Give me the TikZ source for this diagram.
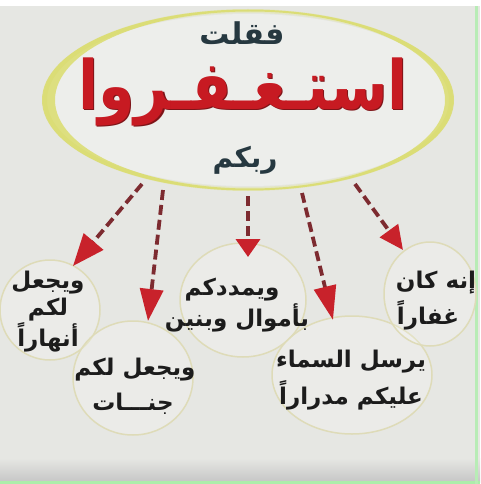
\documentclass[tikz,border=0pt]{standalone}
\usepackage{fontspec}
\TeXXeTstate=1
\newfontfamily\ar[Script=Arabic]{DejaVu Sans}
\usetikzlibrary{arrows.meta,shapes.geometric}
\definecolor{bg}{HTML}{E6E7E3}
\definecolor{ringy}{HTML}{D8DA5C}
\definecolor{ringl}{HTML}{E4E6C4}
\definecolor{circ}{HTML}{DEDBB8}
\definecolor{shaft}{HTML}{7D2B30}
\definecolor{headred}{HTML}{C8222B}
\definecolor{titred}{HTML}{C71A22}
\definecolor{titedge}{HTML}{7E1418}
\definecolor{titdark}{HTML}{263840}
\definecolor{txt}{HTML}{1C1C1C}
\tikzset{
  bubble/.style={ellipse, draw=circ, line width=1.5pt, fill=white, fill opacity=0.2, draw opacity=1, inner sep=0pt},
  lbl/.style={font=\ar\bfseries\fontsize{23}{27}\selectfont, text=txt, align=center, inner sep=0pt},
  arr/.style={draw=shaft, line width=3.8pt, dash pattern=on 10pt off 5pt},
  bigword/.style={font=\ar\bfseries\fontsize{68}{72}\selectfont, inner sep=0pt},
}
\newcommand\bigtxt{\scalebox{0.86}[1.0]{\beginR استـغـفـروا\endR}}
\begin{document}
\begin{tikzpicture}[x=1pt,y=-1pt]
\useasboundingbox (0,0) rectangle (480,484);
\fill[bg] (0,0) rectangle (480,484);
\fill[white] (0,0) rectangle (480,6);
\shade[top color=bg, bottom color=gray!45] (0,458) rectangle (480,482);
\fill[green!25!bg] (0,481) rectangle (480,484);
\fill[green!20!bg] (475,6) rectangle (478,484);
% big ellipse
\node[ellipse, minimum width=404pt, minimum height=172pt, fill=white, fill opacity=0.3, inner sep=0pt] (top) at (248,100) {};
\draw[ringl, line width=4pt] (248,100) ellipse [x radius=203pt, y radius=89pt];
\fill[ringy, even odd rule, opacity=0.75] (248,100) ellipse [x radius=206pt, y radius=90.5pt]
      (250,100) ellipse [x radius=195pt, y radius=88.5pt];
\node[font=\ar\bfseries\fontsize{30}{34}\selectfont, text=titdark] (t1) at (242,33) {\beginR فقلت\endR};
\node[bigword, text=titedge] (t2s) at (244.2,93.2) {\bigtxt};
\node[bigword, text=titred] (t2) at (243,92) {\bigtxt};
\node[font=\ar\bfseries\fontsize{28}{32}\selectfont, text=titdark] (t3) at (245,160) {\beginR ربكم\endR};
% bubbles
\node[bubble, minimum width=100pt, minimum height=100pt] (b1) at (50,310) {};
\node[bubble, minimum width=120pt, minimum height=114pt] (b2) at (133,378) {};
\node[bubble, minimum width=126pt, minimum height=114pt] (b3) at (243,300) {};
\node[bubble, minimum width=160pt, minimum height=118pt] (b4) at (352,375) {};
\node[bubble, minimum width=92pt, minimum height=104pt] (b5) at (430,294) {};
% labels
\node[lbl] (l1a) at (48,283) {\beginR ويجعل\endR};
\node[lbl] (l1b) at (48,310) {\beginR لكم\endR};
\node[lbl] (l1c) at (48,337) {\beginR أنهاراً\endR};
\node[lbl] (l2a) at (135,370) {\beginR ويجعل لكم\endR};
\node[lbl] (l2b) at (133,404) {\beginR جنـــات\endR};
\node[lbl] (l3a) at (232,290) {\beginR ويمددكم\endR};
\node[lbl] (l3b) at (237,318) {\beginR بأموال وبنين\endR};
\node[lbl] (l4a) at (351,362) {\beginR يرسل السماء\endR};
\node[lbl] (l4b) at (351,395) {\beginR عليكم مدراراً\endR};
\node[lbl] (l5a) at (436,283) {\beginR إنه كان\endR};
\node[lbl] (l5b) at (428,315) {\beginR غفاراً\endR};
% arrows
\coordinate (s1) at (142,184); \coordinate (e1) at (73,266);
\coordinate (s2) at (163,190); \coordinate (e2) at (148,321);
\coordinate (s3) at (248,196); \coordinate (e3) at (248,257);
\coordinate (s4) at (302,193); \coordinate (e4) at (333,320);
\coordinate (s5) at (355,184); \coordinate (e5) at (403,250);
\draw[arr, -{Triangle[length=32pt,width=25pt,color=headred]}] (s1) -- (e1);
\draw[arr, -{Triangle[length=32pt,width=23pt,color=headred]}] (s2) -- (e2);
\draw[arr, -{Triangle[length=18pt,width=24pt,color=headred]}] (s3) -- (e3);
\draw[arr, -{Triangle[length=34pt,width=22pt,color=headred]}] (s4) -- (e4);
\draw[arr, -{Triangle[length=24pt,width=22pt,color=headred]}] (s5) -- (e5);
\end{tikzpicture}
\end{document}
